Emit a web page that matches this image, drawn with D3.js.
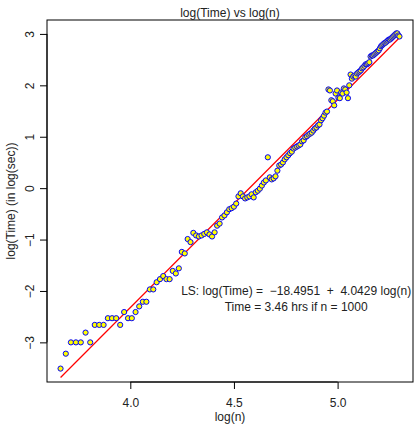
<!DOCTYPE html>
<html>
<head>
<meta charset="utf-8">
<script src="https://cdn.jsdelivr.net/npm/d3@7"></script>
<style>
  body { margin: 0; background: #fff; }
  svg { display: block; font-family: "Liberation Sans", Arial, sans-serif; }
</style>
</head>
<body>
<script>
// problem sizes n (x axis uses log(n))
const nValues = [
    39, 40, 41, 42, 43, 44, 45, 46, 47, 48,
    49, 50, 51, 52, 53, 54, 55, 56, 57, 58,
    59, 60, 61, 62, 63, 64, 65, 66, 67, 68,
    69, 70, 71, 72, 73, 74, 75, 76, 77, 78,
    79, 80, 81, 82, 83, 84, 85, 86, 87, 88,
    89, 90, 91, 92, 93, 94, 95, 96, 97, 98,
    99, 100, 101, 102, 103, 104, 105, 106, 107, 108,
    109, 110, 111, 112, 113, 114, 115, 116, 117, 118,
    119, 120, 121, 122, 123, 124, 125, 126, 127, 128,
    129, 130, 131, 132, 133, 134, 135, 136, 137, 138,
    139, 140, 141, 142, 143, 144, 145, 146, 147, 148,
    149, 150, 151, 152, 153, 154, 155, 156, 157, 158,
    159, 160, 161, 162, 163, 164, 165, 166, 167, 168,
    169, 170, 171, 172, 173, 174, 175, 176, 177, 178,
    179, 180, 181, 182, 183, 184, 185, 186, 187, 188,
    189, 190, 191, 192, 193, 194, 195, 196, 197, 198,
    199, 200
];

// log(Time) in log(sec), one per n
const logTime = [
    -3.51, -3.22, -3.00, -3.00, -3.00, -2.81, -3.00, -2.66, -2.66, -2.66,
    -2.53, -2.53, -2.53, -2.66, -2.41, -2.53, -2.53, -2.41, -2.30, -2.21,
    -2.21, -1.97, -1.97, -1.83, -1.77, -1.71, -1.77, -1.77, -1.61, -1.66,
    -1.56, -1.24, -1.27, -0.99, -1.05, -0.87, -0.92, -0.94, -0.92, -0.89,
    -0.86, -0.90, -0.94, -0.86, -0.73, -0.69, -0.57, -0.53, -0.47, -0.41,
    -0.39, -0.36, -0.30, -0.16, -0.10, -0.16, -0.20, -0.18, -0.16, -0.12,
    -0.18, -0.08, -0.05, -0.01, 0.05, 0.11, 0.15, 0.60, 0.21, 0.17,
    0.19, 0.23, 0.34, 0.44, 0.46, 0.50, 0.56, 0.60, 0.64, 0.68,
    0.71, 0.77, 0.79, 0.81, 0.83, 0.85, 0.91, 0.93, 0.99, 1.01,
    1.04, 1.06, 1.08, 1.12, 1.16, 1.18, 1.22, 1.24, 1.32, 1.36,
    1.41, 1.47, 1.49, 1.92, 1.90, 1.71, 1.69, 1.61, 1.84, 1.90,
    1.76, 1.75, 1.86, 1.84, 1.94, 1.92, 1.86, 1.75, 2.00, 2.21,
    2.13, 2.17, 2.19, 2.17, 2.23, 2.25, 2.27, 2.29, 2.33, 2.35,
    2.38, 2.41, 2.41, 2.43, 2.45, 2.56, 2.58, 2.58, 2.60, 2.62,
    2.64, 2.66, 2.68, 2.72, 2.76, 2.78, 2.80, 2.82, 2.83, 2.85,
    2.87, 2.89, 2.89, 2.91, 2.93, 2.95, 2.97, 2.99, 3.01, 3.01,
    2.97, 2.95
];

// least squares fit
const lsIntercept = -18.4951;
const lsSlope = 4.0429;

const xTicks = [4.0, 4.5, 5.0];
const yTicks = [-3, -2, -1, 0, 1, 2, 3];

// non-breaking spaces keep the double gaps of the original
const labelLines = [
    "LS: log(Time) =\u00a0\u00a0\u221218.4951\u00a0\u00a0+\u00a0\u00a04.0429 log(n)",
    "Time = 3.46 hrs if n = 1000"
];

const width = 414;
const height = 426;
const margin = { top: 20, right: 1, bottom: 44, left: 47 };

const points = nValues.map((n, i) => ({ x: Math.log(n), y: logTime[i] }));

// R style: pad the data range by 4% on each side
const pad = ([a, b]) => [a - (b - a) * 0.04, b + (b - a) * 0.04];
const xExt = d3.extent(points, d => d.x);
const yExt = d3.extent(points, d => d.y);

const x = d3.scaleLinear()
    .domain(pad(xExt))
    .range([margin.left, width - margin.right]);
const y = d3.scaleLinear()
    .domain(pad(yExt))
    .range([height - margin.bottom, margin.top]);

const fmtMinus = s => String(s).replace("-", "\u2212");

const svg = d3.select("body").append("svg")
    .attr("width", width)
    .attr("height", height)
    .attr("viewBox", [0, 0, width, height]);

// plot box
svg.append("rect")
    .attr("x", margin.left)
    .attr("y", margin.top)
    .attr("width", width - margin.right - margin.left)
    .attr("height", height - margin.bottom - margin.top)
    .attr("fill", "none")
    .attr("stroke", "#000")
    .attr("stroke-width", 1);

// x axis
const gx = svg.append("g")
    .attr("transform", `translate(0,${height - margin.bottom})`)
    .call(d3.axisBottom(x).tickValues(xTicks).tickFormat(d3.format(".1f")).tickSize(7).tickSizeOuter(0));
gx.select(".domain").remove();
gx.append("line")
    .attr("x1", x(xTicks[0])).attr("x2", x(xTicks[xTicks.length - 1]))
    .attr("stroke", "#000");
gx.selectAll(".tick text")
    .attr("y", 25).attr("dy", 0)
    .attr("font-size", 12).attr("font-family", null).attr("fill", "#222");

// y axis
const gy = svg.append("g")
    .attr("transform", `translate(${margin.left},0)`)
    .call(d3.axisLeft(y).tickValues(yTicks).tickFormat(fmtMinus).tickSize(7).tickSizeOuter(0));
gy.select(".domain").remove();
gy.append("line")
    .attr("y1", y(yTicks[0])).attr("y2", y(yTicks[yTicks.length - 1]))
    .attr("stroke", "#000");
gy.selectAll(".tick text")
    .attr("transform", "rotate(-90)")
    .attr("text-anchor", "middle")
    .attr("x", 0).attr("y", -13.5).attr("dy", 0)
    .attr("font-size", 12).attr("font-family", null).attr("fill", "#222");

// titles
svg.append("text")
    .attr("x", (margin.left + width - margin.right) / 2)
    .attr("y", 16.5)
    .attr("text-anchor", "middle")
    .attr("font-size", 12).attr("fill", "#222")
    .text("log(Time) vs log(n)");

svg.append("text")
    .attr("x", (margin.left + width - margin.right) / 2)
    .attr("y", 421)
    .attr("text-anchor", "middle")
    .attr("font-size", 12).attr("fill", "#222")
    .text("log(n)");

svg.append("text")
    .attr("transform", `translate(14.5,${(margin.top + height - margin.bottom) / 2}) rotate(-90)`)
    .attr("text-anchor", "middle")
    .attr("font-size", 12).attr("fill", "#222")
    .text("log(Time) (in log(sec))");

// fitted line over the data range
const lineGen = d3.line().x(d => x(d)).y(d => y(lsIntercept + lsSlope * d));
svg.append("path")
    .attr("d", lineGen(xExt))
    .attr("fill", "none")
    .attr("stroke", "red")
    .attr("stroke-width", 1.2);

// points
svg.append("g")
    .selectAll("circle")
    .data(points)
    .join("circle")
    .attr("cx", d => x(d.x))
    .attr("cy", d => y(d.y))
    .attr("r", 2.6)
    .attr("fill", "#ffff00")
    .attr("stroke", "#0000ff")
    .attr("stroke-width", 1);

// annotation
svg.append("g")
    .attr("font-size", 12).attr("fill", "#222")
    .attr("text-anchor", "middle")
    .selectAll("text")
    .data(labelLines)
    .join("text")
    .attr("x", x(4.8))
    .attr("y", (d, i) => y(i === 0 ? -2 : -2.31))
    .attr("dy", "0.36em")
    .text(d => d);
</script>
</body>
</html>
